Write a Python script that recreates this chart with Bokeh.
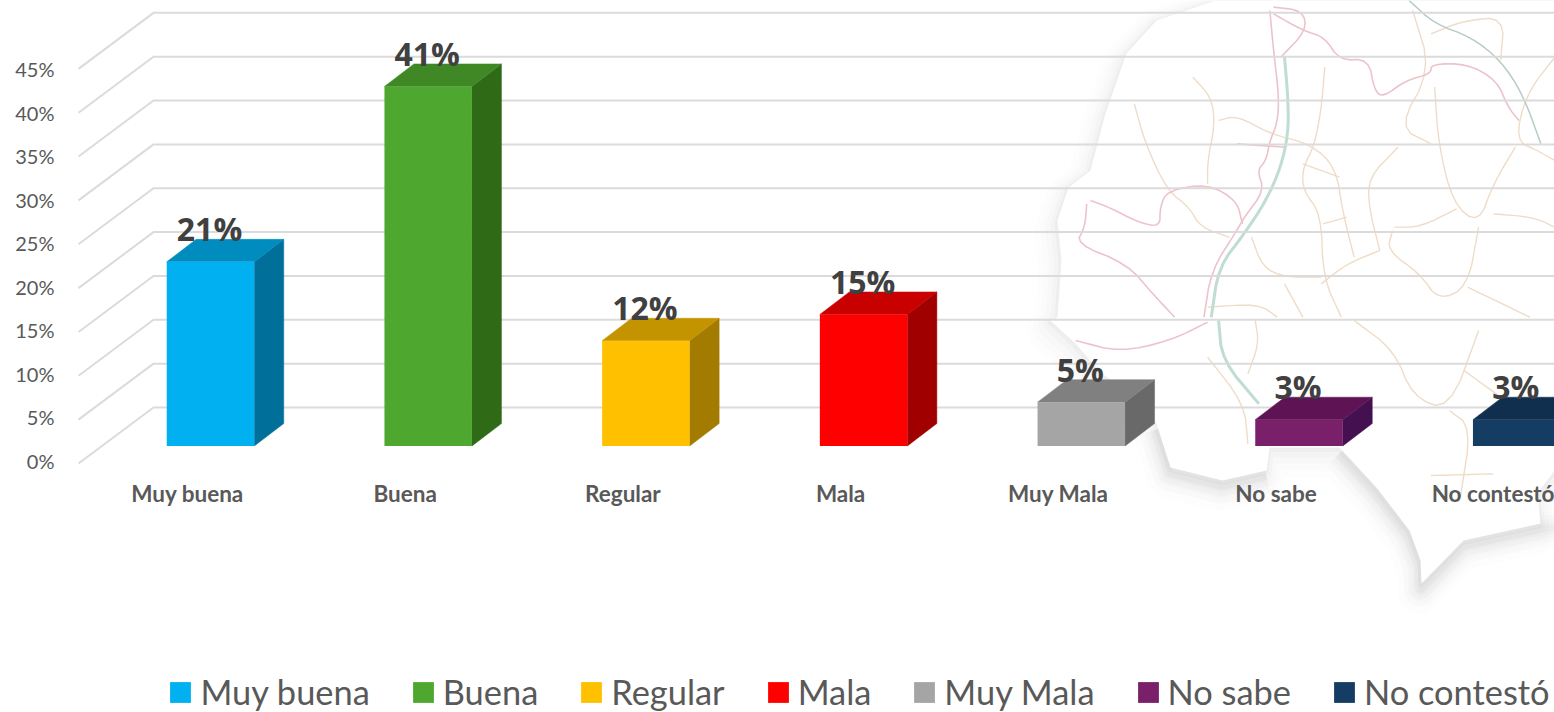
from bokeh.plotting import figure
from bokeh.models import (Range1d, LinearAxis, FixedTicker, Legend, LegendItem, ColumnDataSource)
from bokeh.core.properties import value
from bokeh.embed import file_html
from bokeh.resources import INLINE

# ---- data ----
categories = ["Muy buena", "Buena", "Regular", "Mala", "Muy Mala", "No sabe", "No contestó"]
values = [21, 41, 12, 15, 5, 3, 3]
labels = ["21%", "41%", "12%", "15%", "5%", "3%", "3%"]
front_colors = ["#00B0F0", "#4EA72E", "#FFC000", "#FF0000", "#A5A5A5", "#7A1F6A", "#153D64"]
side_colors = ["#00709A", "#2F6A17", "#A37B00", "#A00000", "#696969", "#451050", "#0E2A45"]
top_colors = ["#008CBE", "#3F8825", "#C49300", "#C80000", "#808080", "#5E1454", "#102F4E"]
y_ticks = [0, 5, 10, 15, 20, 25, 30, 35, 40, 45]

# ---- layout in picture pixels ----
W, H = 1554, 712
FRAME_L, FRAME_R, FRAME_T, FRAME_B = 60, 1554, 0, 712
BAR_X0, BAR_STEP, BAR_W = 210.0, 217.7, 87.5
CAT_X0 = 187.0
Y0, PX_PER = 460.0, 8.77
LABEL_PX_PER = 8.69
def X(px): return (px - BAR_X0) / BAR_STEP
def Y(py): return (Y0 - py) / PX_PER
def DX(px): return px / BAR_STEP
def DY(px): return px / PX_PER

p = figure(width=W, height=H, output_backend="svg", toolbar_location=None,
           x_range=Range1d(X(FRAME_L), X(FRAME_R)), y_range=Range1d(Y(FRAME_B), Y(FRAME_T)),
           x_axis_type=None, y_axis_type=None, min_border_left=FRAME_L, min_border_right=0,
           min_border_top=0, min_border_bottom=0, outline_line_color=None, background_fill_color="white",
           border_fill_color=None)
p.grid.visible = False
p.extra_x_ranges["cats"] = Range1d((FRAME_L - CAT_X0) / BAR_STEP, (FRAME_R - CAT_X0) / BAR_STEP)
p.extra_y_ranges["ticks"] = Range1d((Y0 - FRAME_B) / LABEL_PX_PER, (Y0 - FRAME_T) / LABEL_PX_PER)

# ---- background map (decoration) ----
def c3(pts): return [(980 + a / 2.73, b / 3) for a, b in pts]
def c4(pts): return [(980 + a / 2.73, 320 + b / 3) for a, b in pts]
def smooth(pts, n=2):
    for _ in range(n):
        out = [pts[0]]
        for (a, b), (c, d) in zip(pts, pts[1:]):
            out += [(0.75 * a + 0.25 * c, 0.75 * b + 0.25 * d), (0.25 * a + 0.75 * c, 0.25 * b + 0.75 * d)]
        out.append(pts[-1])
        pts = out
    return pts
coast = [(1215, 0), (1156, 20), (1126, 53), (1105, 113), (1090, 170), (1068, 187), (1057, 220), (1061, 260),
         (1057, 317), (1050, 320), (1075, 343), (1100, 372), (1140, 400), (1156, 423), (1170, 467), (1222, 480),
         (1266, 470), (1269, 447), (1339, 447), (1376, 487), (1409, 530), (1420, 560), (1421, 583), (1463, 540),
         (1540, 523), (1537, 493), (1554, 470), (1600, 470), (1600, 0)]
south = [(1156, 423), (1170, 467), (1222, 480), (1266, 470)]
south2 = [(1339, 447), (1376, 487), (1409, 530), (1420, 560), (1421, 583), (1463, 540), (1540, 523), (1600, 515)]
mx = [X(a) for a, b in coast]
my = [Y(b) for a, b in coast]
for w, alpha, off in [(40, 0.012, 10), (30, 0.016, 8), (21, 0.022, 6), (12, 0.03, 4), (5, 0.04, 2)]:
    p.patch([a - DX(off * 0.3) for a in mx], [b - DY(off) for b in my], fill_color=None, line_color="#707070",
            line_width=w, line_alpha=alpha, line_join="round")
for w, alpha in [(34, 0.012), (26, 0.015), (19, 0.018), (12, 0.022), (6, 0.025)]:
    p.multi_line([[X(a) for a, b in s] for s in (south, south2)],
                 [[Y(b + 6) for a, b in s] for s in (south, south2)],
                 line_color="#606060", line_width=w, line_alpha=alpha, line_join="round")
p.patch(mx, my, fill_color="white", line_color=None)

pink = [c3([(790, 30), (800, 150), (815, 290), (810, 370), (790, 420), (780, 480), (755, 510), (775, 570), (720, 650),
            (700, 690), (630, 810), (610, 950)]),
        c3([(800, 40), (880, 90), (940, 110), (980, 180), (1060, 175), (1075, 270), (1100, 290), (1160, 240), (1230, 220),
            (1230, 190), (1330, 190), (1410, 240), (1440, 320), (1470, 360)]),
        c3([(800, 20), (880, 30), (890, 90), (820, 170)]),
        c3([(290, 610), (285, 680), (260, 730), (400, 790), (470, 880), (530, 950)]),
        c3([(300, 600), (350, 620), (430, 665), (490, 680), (490, 620), (510, 570), (620, 550), (700, 600), (715, 670)]),
        c3([(700, 430), (830, 440)]),
        c4([(260, 60), (380, 95), (520, 60), (620, 5)])]
tan = [c3([(580, 230), (630, 290), (640, 370), (620, 480), (620, 550)]),
       c3([(420, 310), (450, 430), (510, 570), (570, 620), (600, 680), (680, 710)]),
       c3([(650, 360), (700, 345), (790, 400), (900, 430), (970, 500), (990, 640), (1020, 770)]),
       c3([(940, 200), (930, 330), (910, 440), (880, 500), (880, 570), (930, 640), (935, 830), (985, 950)]),
       c3([(880, 490), (980, 530)]),
       c3([(935, 670), (1000, 650)]),
       c3([(1180, 30), (1230, 210), (1140, 380), (1230, 430)]),
       c3([(1140, 440), (1060, 530), (1060, 620), (1090, 750)]),
       c3([(1240, 260), (1250, 430), (1290, 610), (1360, 670), (1400, 550), (1460, 440)]),
       c3([(1130, 680), (1200, 680), (1300, 625)]),
       c3([(1090, 750), (1000, 790), (930, 850)]),
       c3([(1125, 690), (1110, 750), (1200, 820), (1250, 900), (1330, 860), (1360, 680)]),
       c3([(1330, 860), (1500, 950)]),
       c3([(1568, 170), (1490, 280), (1460, 420), (1520, 450), (1568, 480)]),
       c3([(1400, 640), (1510, 650), (1568, 680)]),
       c3([(1230, 100), (1320, 60), (1430, 50), (1420, 180)]),
       c3([(740, 710), (770, 800), (830, 830), (930, 830)]),
       c3([(830, 850), (880, 950)]),
       c3([(620, 920), (760, 910), (810, 950)]),
       c4([(620, 110), (720, 250), (730, 370)]),
       c4([(750, 0), (760, 70), (730, 160)]),
       c4([(1020, 0), (1130, 90), (1180, 230), (1280, 270), (1360, 30)]),
       c4([(1280, 270), (1340, 320), (1310, 530)]),
       c4([(1230, 465), (1400, 460)]),
       c4([(1320, 150), (1420, 230)])]
green = [c3([(830, 170), (840, 300), (840, 400), (820, 500), (780, 600), (720, 700), (650, 800), (630, 950)]),
         c4([(650, 0), (660, 120), (760, 250)])]
teal = [c3([(1170, 0), (1240, 70), (1340, 110), (1420, 180), (1480, 280), (1530, 430)])]
for lines, col, lw in [(tan, "#EFDCC8", 1.4), (pink, "#EDC3CB", 1.6), (green, "#BFDDD2", 3), (teal, "#B5CCC6", 1.5)]:
    lines = [smooth(l) for l in lines]
    p.multi_line([[X(a) for a, b in l] for l in lines], [[Y(b) for a, b in l] for l in lines],
                 line_color=col, line_width=lw)

# ---- walls / gridlines ----
FRONT_OFF = DY(-3)
BACK_OFF = DY(53)
WALL_X0, WALL_X1, WALL_X2 = X(78), X(153), X(1600)
p.multi_line([[WALL_X0, WALL_X1, WALL_X2] for v in y_ticks],
             [[v + FRONT_OFF, v + BACK_OFF, v + BACK_OFF] for v in y_ticks],
             line_color="#D9D9D9", line_width=2, line_alpha=0.95)

# ---- 3D bars ----
BAR_BOTTOM = DY(14.5)
HALF = DX(BAR_W / 2)
DEPTH_X, DEPTH_Y = DX(29.5), DY(22.5)
items = []
for i, (name, v) in enumerate(zip(categories, values)):
    l, r, b, t = i - HALF, i + HALF, BAR_BOTTOM, BAR_BOTTOM + v
    p.patch([r, r + DEPTH_X, r + DEPTH_X, r], [b, b + DEPTH_Y, t + DEPTH_Y, t],
            fill_color=side_colors[i], line_color=side_colors[i], line_width=0.5)
    p.patch([l, r, r + DEPTH_X, l + DEPTH_X], [t, t, t + DEPTH_Y, t + DEPTH_Y],
            fill_color=top_colors[i], line_color=top_colors[i], line_width=0.5)
    rend = p.quad(left=[l], right=[r], bottom=[b], top=[t], fill_color=front_colors[i], line_color=None)
    items.append(LegendItem(label=name, renderers=[rend]))

# ---- data labels ----
src = ColumnDataSource(dict(x=[i - DX(1) for i in range(len(values))],
                            y=[BAR_BOTTOM + v + DY(33) for v in values], t=labels))
p.text("x", "y", text="t", source=src, text_align="center", text_baseline="middle",
       text_font=value("Open Sans"), text_font_style="bold", text_font_size="32px", text_color="#404040")

# ---- axes ----
yax = LinearAxis(y_range_name="ticks", ticker=FixedTicker(ticks=y_ticks), axis_line_color=None,
                 major_tick_line_color=None, minor_tick_line_color=None, major_label_standoff=0,
                 major_label_overrides={v: f"{v}%" for v in y_ticks},
                 major_label_text_font="Lato", major_label_text_font_size="20px",
                 major_label_text_color="#595959")
p.add_layout(yax, "left")
xax = LinearAxis(x_range_name="cats", ticker=FixedTicker(ticks=list(range(len(categories)))),
                 fixed_location=Y(469), axis_line_color=None, major_tick_line_color=None,
                 minor_tick_line_color=None, major_label_standoff=4,
                 major_label_overrides={i: c for i, c in enumerate(categories)},
                 major_label_text_font="Lato", major_label_text_font_style="bold",
                 major_label_text_font_size="22.5px", major_label_text_color="#595959")
p.add_layout(xax, "below")

# ---- legend ----
leg = Legend(items=items, orientation="horizontal", location=(167.4 - FRAME_L, 0), padding=0, margin=0,
             spacing=40, glyph_width=26, glyph_height=26, label_standoff=7,
             label_text_font="Lato", label_text_font_size="34.4px", label_text_color="#595959",
             border_line_color=None, background_fill_color=None, background_fill_alpha=0)
p.add_layout(leg, "center")

open("out.html", "w").write(file_html(p, INLINE))
